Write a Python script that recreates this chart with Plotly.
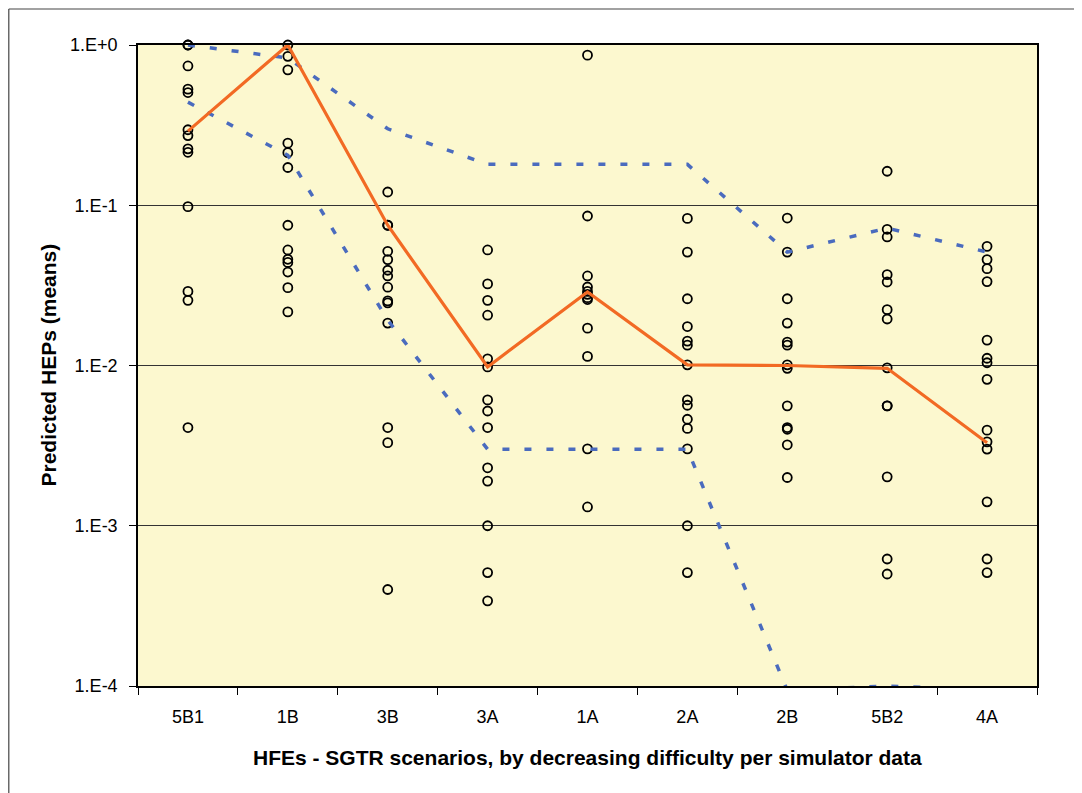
import plotly.graph_objects as go

categories = ["5B1", "1B", "3B", "3A", "1A", "2A", "2B", "5B2", "4A"]

points_5B1 = [1.0, 1.0, 0.74, 0.53, 0.505, 0.296, 0.272, 0.225, 0.214, 0.098, 0.029, 0.0255, 0.0041]
points_1B = [1.0, 0.85, 0.70, 0.244, 0.213, 0.172, 0.075, 0.0526, 0.046, 0.044, 0.0383, 0.0306, 0.0216]
points_3B = [0.121, 0.075, 0.075, 0.0516, 0.0458, 0.0393, 0.0362, 0.0308, 0.0253, 0.0246, 0.0184, 0.0041, 0.0033, 0.0004]
points_3A = [0.0526, 0.0323, 0.0255, 0.0206, 0.011, 0.0098, 0.0061, 0.0052, 0.0041, 0.0023, 0.0019, 0.001, 0.00051, 0.00034]
points_1A = [0.864, 0.0857, 0.0362, 0.0309, 0.0290, 0.0278, 0.0265, 0.0258, 0.0171, 0.0114, 0.00302, 0.00131]
points_2A = [0.0828, 0.051, 0.0261, 0.0175, 0.0142, 0.0134, 0.0101, 0.0061, 0.00565, 0.00462, 0.00405, 0.00302, 0.001, 0.00051]
points_2B = [0.0832, 0.051, 0.0261, 0.0184, 0.014, 0.0134, 0.0101, 0.0096, 0.0056, 0.0041, 0.0040, 0.0032, 0.002]
points_5B2 = [0.163, 0.0708, 0.0634, 0.0369, 0.0332, 0.0223, 0.0195, 0.00967, 0.0056, 0.0056, 0.00202, 0.00062, 0.0005]
points_4A = [0.0554, 0.0458, 0.0402, 0.0334, 0.0144, 0.0111, 0.0104, 0.0082, 0.00395, 0.00334, 0.00301, 0.00141, 0.00062, 0.00051]

mean_line = [0.29, 1.0, 0.075, 0.0098, 0.0288, 0.0101, 0.0100, 0.0096, 0.0033]
upper_bound = [1.0, 0.83, 0.30, 0.18, 0.18, 0.18, 0.051, 0.072, 0.051]
lower_bound = [0.44, 0.205, 0.0192, 0.003, 0.003, 0.003, 0.000094, 0.0001, 0.000095]

y_tick_vals = [1, 0.1, 0.01, 0.001, 0.0001]
y_tick_text = ["1.E+0", "1.E-1", "1.E-2", "1.E-3", "1.E-4"]

x_title = "HFEs - SGTR scenarios, by decreasing difficulty per simulator data"
y_title = "Predicted HEPs (means)"

all_points = [points_5B1, points_1B, points_3B, points_3A, points_1A,
              points_2A, points_2B, points_5B2, points_4A]
xs, ys = [], []
for cat, pts in zip(categories, all_points):
    xs += [cat] * len(pts)
    ys += pts

# the page body has an 8px default margin; the figure is sized to compensate
OFF = 8
W, H = 1082 - OFF, 793 - OFF
L, T = 138 - OFF, 45 - OFF
R = W - (1037 - OFF)
B = H - (686 - OFF)
PW, PH = W - L - R, H - T - B


def px_x(p):
    return (p - L) / PW


def px_y(p):
    return (H - B - p) / PH


fig = go.Figure()
fig.add_trace(go.Scatter(
    x=xs, y=ys, mode="markers", cliponaxis=False,
    marker=dict(symbol="circle-open", size=9, color="black", line=dict(width=1.8, color="black")),
    showlegend=False, hoverinfo="x+y"))
fig.add_trace(go.Scatter(
    x=categories, y=upper_bound, mode="lines",
    line=dict(color="#4A6BBE", width=3.5, dash="7px,15px"), showlegend=False))
fig.add_trace(go.Scatter(
    x=categories, y=lower_bound, mode="lines",
    line=dict(color="#4A6BBE", width=3.5, dash="7px,15px"), showlegend=False))
fig.add_trace(go.Scatter(
    x=categories, y=mean_line, mode="lines",
    line=dict(color="#F26A24", width=3.2), showlegend=False))

axis_font = dict(family="Liberation Sans, Arial, sans-serif", size=18, color="black")
title_font = dict(family="Liberation Sans, Arial, sans-serif", size=21, color="black", weight="bold")

frame_line = dict(color="#444444", width=1.2)

fig.update_layout(
    width=W, height=H,
    margin=dict(l=L, r=R, t=T, b=B),
    paper_bgcolor="white",
    plot_bgcolor="#FCF8CF",
    xaxis=dict(
        type="category", categoryorder="array", categoryarray=categories,
        range=[-0.5, len(categories) - 0.5],
        tickson="boundaries", ticks="outside", ticklen=7, tickcolor="black", tickwidth=1,
        showline=True, linecolor="black", linewidth=1.5, mirror=True,
        showgrid=False, zeroline=False, tickfont=axis_font, ticklabelstandoff=14,
    ),
    yaxis=dict(
        type="log", range=[-4, 0],
        tickvals=y_tick_vals, ticktext=y_tick_text,
        ticks="outside", ticklen=7, tickcolor="black", tickwidth=1,
        showline=True, linecolor="black", linewidth=1.5, mirror=True,
        showgrid=True, gridcolor="#333333", gridwidth=1, zeroline=False,
        tickfont=axis_font, ticklabelstandoff=8,
    ),
    annotations=[
        dict(text=x_title, xref="paper", yref="paper", x=0.5, y=0, xanchor="center", yanchor="middle",
             yshift=-71, showarrow=False, font=title_font),
        dict(text=y_title, xref="paper", yref="paper", x=0, y=0.5, xanchor="center", yanchor="middle",
             xshift=-90, textangle=-90, showarrow=False, font=title_font),
    ],
    shapes=[
        # outer chart frame: only left and top edges are inside the picture
        dict(type="line", xref="paper", yref="paper",
             x0=px_x(0.8), x1=px_x(0.8), y0=px_y(1.0), y1=px_y(H + 5),
             line=frame_line, layer="below"),
        dict(type="line", xref="paper", yref="paper",
             x0=px_x(0.8), x1=px_x(W + 5), y0=px_y(1.0), y1=px_y(1.0),
             line=frame_line, layer="below"),
    ],
)

fig.write_html("out.html")
